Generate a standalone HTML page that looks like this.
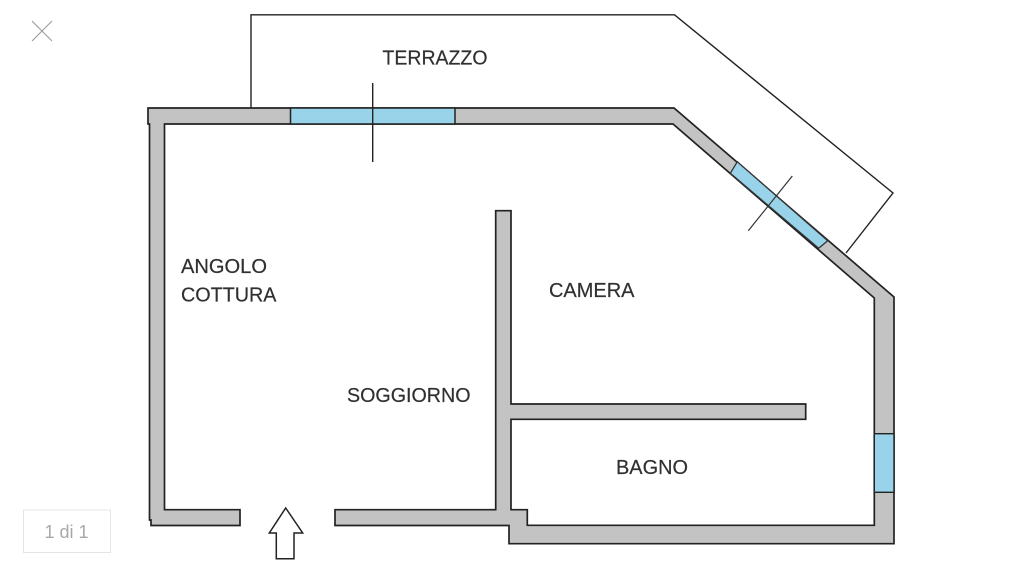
<!DOCTYPE html>
<html>
<head>
<meta charset="utf-8">
<style>
html,body{margin:0;padding:0;background:#fff;width:1024px;height:576px;overflow:hidden}
svg{display:block;filter:blur(0.35px)}
text{font-family:"Liberation Sans",sans-serif;font-size:20px;fill:#303030;stroke:#303030;stroke-width:0.2}
</style>
</head>
<body>
<svg width="1024" height="576" viewBox="0 0 1024 576" xmlns="http://www.w3.org/2000/svg">
<rect width="1024" height="576" fill="#fff"/>
<!-- close icon -->
<path d="M32 21L52 41M52 21L32 41" stroke="#9a9a9a" stroke-width="1.1" fill="none"/>
<!-- counter -->
<rect x="23.5" y="510" width="87" height="42.5" fill="#fff" stroke="#e4e4e4" stroke-width="1"/>
<text x="66.5" y="538" text-anchor="middle" style="font-size:18px;fill:#a8a8a8;stroke:none">1 di 1</text>
<!-- terrace -->
<path d="M251 108V14.8H674.5L893 193L846 253" fill="none" stroke="#222" stroke-width="1.4"/>
<!-- walls -->
<path d="M148 108H674L894 297V543.7H509V525.5H335V509.7H495.7V210.7H511V404H805.7V419.3H511V509.7H527.3V525.3H874.3V298L865 290L673 124H164.5V509.7H240V525.5H151V520H149.5V124H148Z" fill="#c3c3c3" stroke="#222" stroke-width="1.7"/>
<!-- windows -->
<rect x="290.5" y="108" width="164.5" height="16" fill="#99d3e9" stroke="#222" stroke-width="1.5"/>
<path d="M737.3 161.7L827.7 240.7L818.7 248.3L730.3 173.3Z" fill="#99d3e9" stroke="#333" stroke-width="1.3"/>
<rect x="874.3" y="433.7" width="19.7" height="58.6" fill="#99d3e9" stroke="#222" stroke-width="1.4"/>
<!-- window crosses -->
<path d="M372.7 83V162" stroke="#222" stroke-width="1.4" fill="none"/>
<path d="M792.3 176L748.3 230.7" stroke="#333" stroke-width="1.2" fill="none"/>
<!-- entry arrow -->
<path d="M285.7 508L302.7 533H294V558.7H276.3V533H269.3Z" fill="#fff" stroke="#222" stroke-width="1.5"/>
<!-- labels -->
<text x="382.5" y="64.7" textLength="105" lengthAdjust="spacingAndGlyphs">TERRAZZO</text>
<text x="181" y="273" textLength="86" lengthAdjust="spacingAndGlyphs">ANGOLO</text>
<text x="181" y="301.5" textLength="95.5" lengthAdjust="spacingAndGlyphs">COTTURA</text>
<text x="347" y="402" textLength="123.5" lengthAdjust="spacingAndGlyphs">SOGGIORNO</text>
<text x="549" y="297" textLength="85.5" lengthAdjust="spacingAndGlyphs">CAMERA</text>
<text x="616" y="474" textLength="72" lengthAdjust="spacingAndGlyphs">BAGNO</text>
</svg>
</body>
</html>
